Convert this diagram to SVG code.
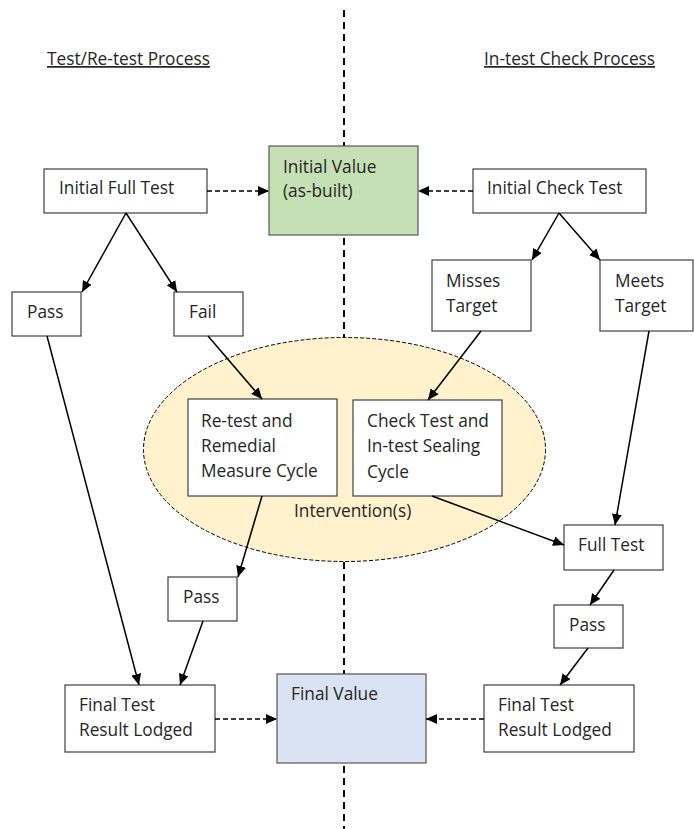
<svg xmlns="http://www.w3.org/2000/svg" width="694" height="829" viewBox="0 0 694 829">
<style>
text{font-family:"Open Sans","Liberation Sans",sans-serif;font-size:17.3px;fill:#262626}
.box{fill:#fff;stroke:#404040;stroke-width:1.2}
.hdr{text-decoration:underline}
.ar{stroke:#000;stroke-width:1.5;fill:none;marker-end:url(#ah)}
.da{stroke:#000;stroke-width:1.5;fill:none;stroke-dasharray:5 3;marker-end:url(#ah)}
</style>
<defs>
<marker id="ah" markerUnits="userSpaceOnUse" markerWidth="12" markerHeight="10" refX="11" refY="5" orient="auto">
<path d="M0,0 L11,5 L0,10 z" fill="#000"/>
</marker>
</defs>
<rect width="694" height="829" fill="#fff"/>
<line x1="344" y1="10" x2="344" y2="829" stroke="#000" stroke-width="2" stroke-dasharray="7 5"/>
<g id="headers">
<text class="hdr" x="47" y="65">Test/Re-test Process</text>
<text class="hdr" x="484" y="65">In-test Check Process</text>
</g>
<g id="intervention">
<ellipse cx="344.5" cy="449.5" rx="201" ry="112" fill="#fff2cc" stroke="#000" stroke-width="1" stroke-dasharray="4 2"/>
<text x="294" y="517">Intervention(s)</text>
</g>
<g id="initial-value">
<rect x="269" y="146" width="149" height="89" fill="#c5e0b4" stroke="#555" stroke-width="1.2"/>
<text x="283" y="173">Initial Value</text>
<text x="283" y="197">(as-built)</text>
</g>
<g id="initial-full-test">
<rect class="box" x="44" y="169" width="163" height="44"/>
<text x="59" y="194">Initial Full Test</text>
</g>
<g id="initial-check-test">
<rect class="box" x="473" y="169" width="173" height="44"/>
<text x="487" y="194">Initial Check Test</text>
</g>
<g id="pass-left">
<rect class="box" x="12" y="292" width="69" height="44"/>
<text x="27" y="318">Pass</text>
</g>
<g id="fail">
<rect class="box" x="174" y="292" width="69" height="44"/>
<text x="189" y="318">Fail</text>
</g>
<g id="misses-target">
<rect class="box" x="432" y="260" width="99" height="71"/>
<text x="446" y="287">Misses</text>
<text x="446" y="312">Target</text>
</g>
<g id="meets-target">
<rect class="box" x="600" y="260" width="93" height="71"/>
<text x="615" y="287">Meets</text>
<text x="615" y="312">Target</text>
</g>
<g id="retest-cycle">
<rect class="box" x="188" y="399" width="149" height="97"/>
<text x="201" y="427">Re-test and</text>
<text x="201" y="452">Remedial</text>
<text x="201" y="477">Measure Cycle</text>
</g>
<g id="check-cycle">
<rect class="box" x="353" y="400" width="149" height="96"/>
<text x="367" y="427">Check Test and</text>
<text x="367" y="452">In-test Sealing</text>
<text x="367" y="478">Cycle</text>
</g>
<g id="pass-mid">
<rect class="box" x="168" y="577" width="69" height="44"/>
<text x="183" y="603">Pass</text>
</g>
<g id="full-test">
<rect class="box" x="564" y="525" width="99" height="45"/>
<text x="578" y="551">Full Test</text>
</g>
<g id="pass-right">
<rect class="box" x="554" y="605" width="69" height="43"/>
<text x="569" y="631">Pass</text>
</g>
<g id="final-test-left">
<rect class="box" x="65" y="685" width="150" height="67"/>
<text x="79" y="711">Final Test</text>
<text x="79" y="736">Result Lodged</text>
</g>
<g id="final-value">
<rect x="277" y="674" width="149" height="89" fill="#dae3f3" stroke="#555" stroke-width="1.2"/>
<text x="291" y="700">Final Value</text>
</g>
<g id="final-test-right">
<rect class="box" x="484" y="685" width="150" height="67"/>
<text x="498" y="711">Final Test</text>
<text x="498" y="736">Result Lodged</text>
</g>
<g id="connectors">
<line class="da" x1="207" y1="191" x2="269" y2="191"/>
<line class="da" x1="473" y1="191" x2="418" y2="191"/>
<line class="ar" x1="126" y1="213" x2="82" y2="292"/>
<line class="ar" x1="126" y1="213" x2="177" y2="292"/>
<line class="ar" x1="559" y1="213" x2="532" y2="260"/>
<line class="ar" x1="559" y1="213" x2="600" y2="260"/>
<line class="ar" x1="208" y1="336" x2="262" y2="399"/>
<line class="ar" x1="481" y1="331" x2="428" y2="400"/>
<line class="ar" x1="47" y1="336" x2="139" y2="685"/>
<line class="ar" x1="262" y1="496" x2="238" y2="577"/>
<line class="ar" x1="203" y1="621" x2="180" y2="685"/>
<line class="ar" x1="649" y1="331" x2="615" y2="525"/>
<line class="ar" x1="432" y1="496" x2="564" y2="545"/>
<line class="ar" x1="614" y1="570" x2="590" y2="605"/>
<line class="ar" x1="588" y1="648" x2="560" y2="685"/>
<line class="da" x1="215" y1="719" x2="277" y2="719"/>
<line class="da" x1="484" y1="719" x2="426" y2="719"/>
</g>
</svg>
